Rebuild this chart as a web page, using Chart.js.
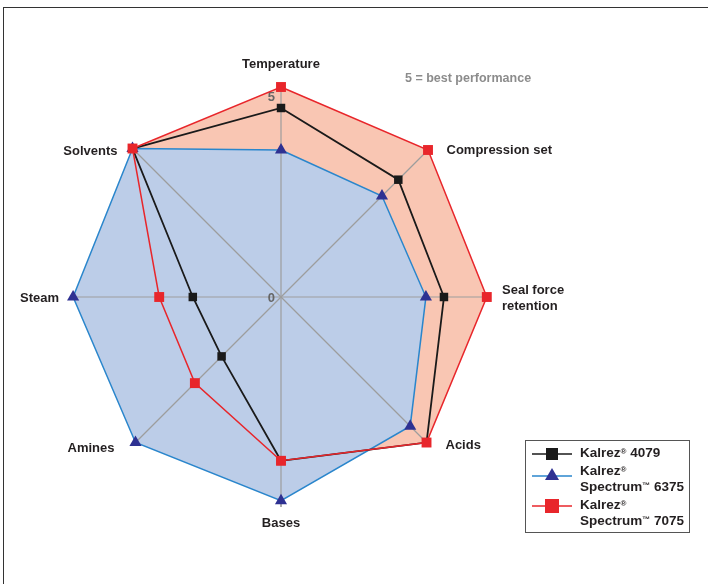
<!DOCTYPE html>
<html><head><meta charset="utf-8">
<script src="https://cdn.jsdelivr.net/npm/chart.js@4.4.1/dist/chart.umd.min.js"></script>
<style>
body{margin:0;background:#fff;}
#wrap{position:relative;width:708px;height:584px;overflow:hidden;font-family:"Liberation Sans Narrow","Arial Narrow","Liberation Sans",Arial,sans-serif;}
#frame{position:absolute;left:3px;top:7px;width:720px;height:600px;border-top:1.5px solid #333;border-left:1.5px solid #333;}
#cv{position:absolute;left:0;top:0;}
#note{position:absolute;left:405px;top:71px;font-weight:bold;font-size:12.5px;color:#8c8c8c;white-space:nowrap;}
#legend{position:absolute;left:525px;top:440px;width:165px;height:93px;border:1px solid #555;box-sizing:border-box;}
.lt{position:absolute;left:54px;font-weight:bold;font-size:13.5px;color:#231f20;line-height:16px;white-space:nowrap;}
.lt sup{font-size:8px;vertical-align:top;position:relative;top:-1px;}
.ls{position:absolute;left:6px;}
</style></head>
<body>
<div id="wrap">
  <div id="frame"></div>
  <canvas id="cv" width="708" height="584"></canvas>
  <div id="note">5 = best performance</div>
  <div id="legend">
    <svg class="ls" style="top:6px" width="42" height="14"><line x1="0" y1="7" x2="40" y2="7" stroke="#1a1a1a" stroke-width="1.6"/><rect x="14" y="1" width="12" height="12" fill="#1a1a1a"/></svg>
    <div class="lt" style="top:4px">Kalrez<sup>®</sup> 4079</div>
    <svg class="ls" style="top:26px" width="42" height="14"><line x1="0" y1="9" x2="40" y2="9" stroke="#2a86cc" stroke-width="1.6"/><polygon points="20,1 27,13 13,13" fill="#2e3192"/></svg>
    <div class="lt" style="top:22px">Kalrez<sup>®</sup><br>Spectrum<sup>™</sup> 6375</div>
    <svg class="ls" style="top:58px" width="42" height="14"><line x1="0" y1="7" x2="40" y2="7" stroke="#e8262b" stroke-width="1.6"/><rect x="13" y="0" width="14" height="14" fill="#e8262b"/></svg>
    <div class="lt" style="top:56px">Kalrez<sup>®</sup><br>Spectrum<sup>™</sup> 7075</div>
  </div>
</div>
<script>
const axisLabels = ["Temperature","Compression set",["Seal force","retention"],"Acids","Bases","Amines","Steam","Solvents"];
const tickLabels = ["0","5"];
const kalrez4079 = [4.5, 3.95, 3.88, 4.9, 3.9, 2.0, 2.1, 5];
const spectrum6375 = [3.5, 3.4, 3.45, 4.35, 4.85, 4.9, 4.95, 5];
const spectrum7075 = [5, 4.95, 4.9, 4.9, 3.9, 2.9, 2.9, 5];

const LABEL_STYLE = [
  {align:'center', dx:0, dy:-23},
  {align:'left', dx:17, dy:2},
  {align:'left', dx:11, dy:-7},
  {align:'left', dx:16, dy:0},
  {align:'center', dx:0, dy:16},
  {align:'right', dx:-18, dy:3},
  {align:'right', dx:-12, dy:1},
  {align:'right', dx:-15, dy:3}
];
const FONT = 'bold 13px "Liberation Sans Narrow", "Arial Narrow", "Liberation Sans", Arial, sans-serif';

const overlay = {
  id:'overlay',
  beforeDatasetsDraw(chart){
    const s = chart.scales.r, ctx = chart.ctx;
    ctx.save();
    ctx.strokeStyle = '#9d9d9d'; ctx.lineWidth = 1.2;
    for (let i = 0; i < axisLabels.length; i++) {
      const p = s.getPointPosition(i, s.drawingArea);
      ctx.beginPath(); ctx.moveTo(s.xCenter, s.yCenter); ctx.lineTo(p.x, p.y); ctx.stroke();
    }
    ctx.font = FONT; ctx.fillStyle = '#666666'; ctx.textAlign = 'right'; ctx.textBaseline = 'middle';
    const t5 = s.getPointPositionForValue(0, 5);
    ctx.fillText(tickLabels[1], t5.x - 6, t5.y + 10);
    const t0 = s.getPointPositionForValue(0, 0);
    ctx.fillText(tickLabels[0], t0.x - 6, t0.y + 1);
    ctx.restore();
  },
  afterDraw(chart){
    const s = chart.scales.r, ctx = chart.ctx;
    ctx.save();
    ctx.font = FONT; ctx.fillStyle = '#231f20'; ctx.textBaseline = 'middle';
    axisLabels.forEach((lab, i) => {
      const p = s.getPointPosition(i, s.drawingArea);
      const o = LABEL_STYLE[i];
      ctx.textAlign = o.align;
      const lines = Array.isArray(lab) ? lab : [lab];
      lines.forEach((t, k) => ctx.fillText(t, p.x + o.dx, p.y + o.dy + k * 16));
    });
    ctx.restore();
  }
};

new Chart(document.getElementById('cv'), {
  type: 'radar',
  data: {
    labels: axisLabels,
    datasets: [
      {label:'Kalrez® 4079', data:kalrez4079, order:1, borderColor:'#1a1a1a', borderWidth:1.8, fill:false,
       pointStyle:'rect', pointRadius:6, pointBackgroundColor:'#1a1a1a', pointBorderColor:'#1a1a1a', pointBorderWidth:0, clip:false},
      {label:'Kalrez® Spectrum™ 6375', data:spectrum6375, order:2, borderColor:'#2a86cc', borderWidth:1.5, fill:true, backgroundColor:'#bccde8',
       pointStyle:'triangle', pointRadius:7, pointBackgroundColor:'#2e3192', pointBorderColor:'#2e3192', pointBorderWidth:0, clip:false},
      {label:'Kalrez® Spectrum™ 7075', data:spectrum7075, order:0, borderColor:'#e8262b', borderWidth:1.5, fill:false,
       pointStyle:'rect', pointRadius:7, pointBackgroundColor:'#e8262b', pointBorderColor:'#e8262b', pointBorderWidth:0, clip:false},
      {label:'7075 area', data:spectrum7075, order:3, borderWidth:0, borderColor:'rgba(0,0,0,0)', fill:true, backgroundColor:'#f9c6b3',
       pointRadius:0, clip:false}
    ]
  },
  options: {
    responsive:false, animation:false,
    layout:{padding:{left:71, right:217, top:87, bottom:77}},
    elements:{line:{tension:0}},
    plugins:{legend:{display:false}, tooltip:{enabled:false}, filler:{drawTime:'beforeDatasetsDraw'}},
    scales:{r:{min:0, max:5, ticks:{display:false, stepSize:5}, grid:{display:false},
      angleLines:{display:true, color:'#9d9d9d', lineWidth:1.2}, pointLabels:{display:false}}}
  },
  plugins:[overlay]
});
</script>
</body></html>
